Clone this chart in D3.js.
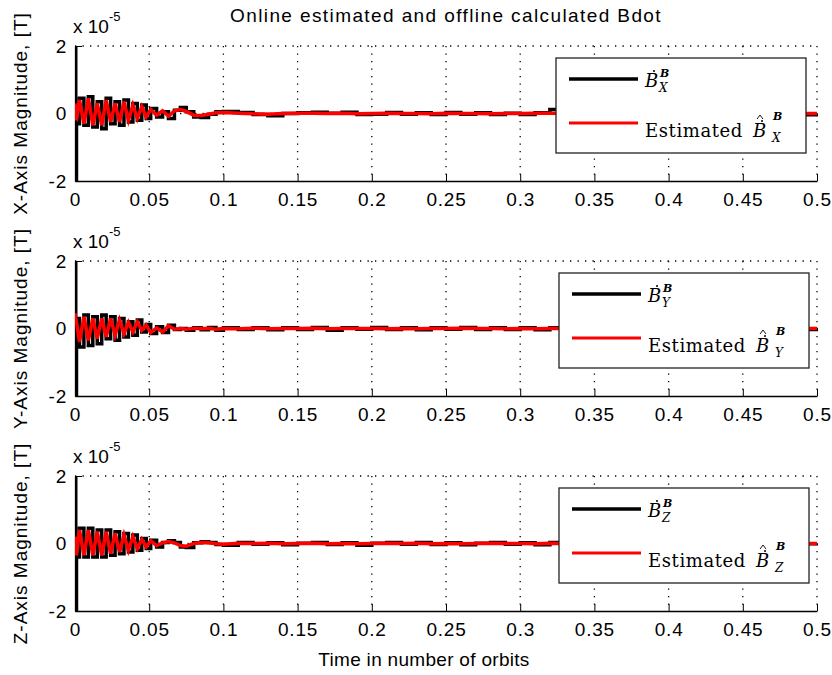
<!DOCTYPE html>
<html>
<head>
<meta charset="utf-8">
<script src="https://cdn.jsdelivr.net/npm/d3@7"></script>
<style>
  body { margin: 0; background: #fff; }
  svg { display: block; }
  .tick text { font-family: "Liberation Sans", Arial, sans-serif; font-size: 19px; letter-spacing: 0.8px; fill: #000; }
  .axis path, .axis line { stroke: #000; }
</style>
</head>
<body>
<script>
// data (values in units of 1e-5 T)
var time = [0, 0.0005, 0.001, 0.003, 0.006, 0.009, 0.012, 0.015, 0.018, 0.021, 0.024, 0.027, 0.030, 0.033, 0.036, 0.039, 0.042, 0.045, 0.048, 0.051,
	0.055, 0.059, 0.063, 0.067, 0.071, 0.075, 0.080, 0.085, 0.090, 0.095, 0.100,
	0.11, 0.12, 0.13, 0.14, 0.15, 0.16, 0.17, 0.18, 0.19, 0.20, 0.21, 0.22, 0.23, 0.24, 0.25, 0.26, 0.27, 0.28, 0.29, 0.30,
	0.31, 0.32, 0.33, 0.34, 0.35, 0.36, 0.37, 0.38, 0.39, 0.40, 0.41, 0.42, 0.43, 0.44, 0.45, 0.46, 0.47, 0.48, 0.49, 0.50];

var xMeasured = [3, -3, -0.3, 0.45, -0.35, 0.5, -0.4, 0.35, -0.45, 0.45, -0.3, 0.35, -0.35, 0.4, -0.25, 0.3, -0.2, 0.25, -0.15, 0.15,
	-0.1, 0.05, -0.15, 0.1, 0.18, 0.05, -0.1, -0.12, -0.02, 0.05, 0.06,
	0.03, -0.03, -0.07, 0.0, 0.02, 0.04, 0.01, 0.04, -0.03, -0.02, 0.03, -0.02, 0.02, -0.03, 0.03, -0.02, 0.02, -0.03, 0.01, -0.03,
	0.02, 0.12, -0.06, 0.02, -0.02, 0.01, -0.02, 0.03, -0.01, 0.02, -0.03, 0.01, 0.02, -0.01, 0.01, -0.02, 0.01, 0.08, -0.04, 0.01];
var xEstimated = [0.3, 0.0, -0.2, 0.4, -0.3, 0.45, -0.35, 0.3, -0.35, 0.4, -0.25, 0.3, -0.25, 0.35, -0.2, 0.25, -0.15, 0.2, -0.1, 0.12,
	-0.05, 0.08, -0.08, 0.08, 0.12, 0.06, -0.05, -0.06, -0.02, 0.02, 0.03,
	0.01, -0.01, -0.02, 0.0, 0.01, 0.01, 0.0, 0.01, -0.01, 0.0, 0.01, 0.0, 0.0, -0.01, 0.01, 0.0, 0.0, -0.01, 0.0, 0.0,
	0.01, 0.01, 0.0, 0.0, 0.0, 0.0, -0.01, 0.0, 0.0, 0.0, 0.0, 0.0, 0.0, 0.0, 0.0, 0.0, 0.0, 0.01, 0.0, 0.0];

var yMeasured = [3, -3, 0.3, -0.55, 0.4, -0.5, 0.35, -0.45, 0.4, -0.3, 0.35, -0.35, 0.3, -0.25, 0.2, -0.2, 0.25, -0.1, 0.12, -0.15,
	0.05, -0.12, 0.1, -0.03, 0.0, -0.05, 0.02, -0.04, 0.03, -0.05, 0.02,
	-0.03, 0.02, -0.04, 0.02, -0.03, 0.03, -0.05, 0.02, -0.02, 0.03, -0.03, 0.02, -0.04, 0.02, -0.02, 0.03, -0.03, 0.02, -0.03, 0.02,
	-0.04, 0.02, -0.03, 0.03, -0.02, 0.02, -0.03, 0.02, -0.03, 0.03, -0.02, 0.02, -0.03, 0.02, -0.03, 0.02, -0.02, 0.03, -0.03, 0.02];
var yEstimated = [0.45, 0.3, 0.2, -0.4, 0.35, -0.35, 0.3, -0.3, 0.3, -0.25, 0.3, -0.2, 0.25, -0.15, 0.18, -0.1, 0.2, -0.05, 0.1, -0.12,
	0.02, -0.1, 0.08, -0.02, 0.0, -0.02, 0.01, -0.01, 0.01, -0.02, 0.0,
	-0.01, 0.01, -0.01, 0.0, 0.0, 0.01, -0.01, 0.0, 0.0, 0.0, -0.01, 0.0, -0.01, 0.0, 0.0, 0.01, 0.0, 0.0, -0.01, 0.0,
	-0.01, 0.0, 0.0, 0.01, 0.0, 0.0, -0.01, 0.0, 0.0, 0.01, 0.0, 0.0, -0.01, 0.0, 0.0, 0.0, 0.0, 0.01, 0.0, 0.0];

var zMeasured = [3, -3, -0.4, 0.45, -0.4, 0.45, -0.4, 0.4, -0.4, 0.4, -0.35, 0.35, -0.3, 0.3, -0.25, 0.25, -0.2, 0.15, -0.15, 0.1,
	-0.1, 0.03, 0.08, 0.03, -0.1, -0.12, 0.02, 0.05, 0.03, -0.03, -0.05,
	0.03, -0.02, 0.02, -0.04, 0.01, 0.03, -0.03, 0.02, -0.05, 0.01, 0.03, -0.02, 0.03, -0.03, 0.02, -0.04, 0.01, 0.03, -0.02, 0.02,
	-0.04, 0.03, -0.01, 0.02, -0.03, 0.01, 0.03, -0.02, 0.02, -0.01, 0.03, -0.02, 0.01, -0.03, 0.02, 0.01, -0.02, 0.02, -0.01, 0.01];
var zEstimated = [0.2, 0.1, -0.35, 0.4, -0.35, 0.4, -0.35, 0.35, -0.35, 0.35, -0.3, 0.3, -0.25, 0.25, -0.2, 0.2, -0.15, 0.12, -0.1, 0.08,
	-0.06, 0.02, 0.06, 0.02, -0.06, -0.08, 0.0, 0.03, 0.02, -0.01, -0.02,
	0.01, 0.0, 0.01, -0.01, 0.0, 0.01, -0.01, 0.0, -0.01, 0.0, 0.01, 0.0, 0.01, -0.01, 0.0, -0.01, 0.0, 0.01, 0.0, 0.0,
	-0.01, 0.01, 0.0, 0.0, -0.01, 0.0, 0.01, 0.0, 0.0, 0.0, 0.01, 0.0, 0.0, -0.01, 0.0, 0.0, 0.0, 0.0, 0.0, 0.0];

var xTicks = [0, 0.05, 0.1, 0.15, 0.2, 0.25, 0.3, 0.35, 0.4, 0.45, 0.5];
var yTicks = [-2, 0, 2];
var axisNames = ['X', 'Y', 'Z'];
var yLabels = ['X-Axis Magnitude, [T]', 'Y-Axis Magnitude, [T]', 'Z-Axis Magnitude, [T]'];
var measuredSeries = [xMeasured, yMeasured, zMeasured];
var estimatedSeries = [xEstimated, yEstimated, zEstimated];

var titleText = 'Online estimated and offline calculated Bdot';
var xLabelText = 'Time in number of orbits';

// chart
var W = 832, H = 675;
var left = 75, right = 817;
var tops = [46, 261, 476];
var plotH = 135;
var sans = '"Liberation Sans", Arial, sans-serif';
var serif = '"DejaVu Serif", serif';

var svg = d3.select('body').append('svg')
	.attr('width', W)
	.attr('height', H);

var x = d3.scaleLinear().domain([0, 0.5]).range([left, right]);

svg.append('text')
	.attr('x', 446)
	.attr('y', 22)
	.attr('text-anchor', 'middle')
	.style('font-family', sans)
	.style('font-size', '19px')
	.style('letter-spacing', '1.4px')
	.text(titleText);

svg.append('text')
	.attr('x', 424)
	.attr('y', 666)
	.attr('text-anchor', 'middle')
	.style('font-family', sans)
	.style('font-size', '19px')
	.style('letter-spacing', '0.3px')
	.text(xLabelText);

axisNames.forEach(function (name, i) {
	var top = tops[i];
	var bottom = top + plotH;
	var y = d3.scaleLinear().domain([-2, 2]).range([bottom, top]);
	var g = svg.append('g');

	g.append('defs').append('clipPath')
		.attr('id', 'clip' + i)
		.append('rect')
		.attr('x', left)
		.attr('y', top)
		.attr('width', right - left + 1)
		.attr('height', plotH);

	// grid
	g.selectAll('.vgrid')
		.data(xTicks.slice(1)).enter()
		.append('line')
		.attr('x1', function (d) { return x(d); })
		.attr('x2', function (d) { return x(d); })
		.attr('y1', top)
		.attr('y2', bottom)
		.attr('stroke', '#000')
		.attr('stroke-width', 1.3)
		.attr('stroke-dasharray', '1.3,6.2');
	g.selectAll('.hgrid')
		.data(yTicks.slice(1)).enter()
		.append('line')
		.attr('x1', left)
		.attr('x2', right)
		.attr('y1', function (d) { return y(d); })
		.attr('y2', function (d) { return y(d); })
		.attr('stroke', '#000')
		.attr('stroke-width', 1.3)
		.attr('stroke-dasharray', '1.3,6.2');

	// axes
	var x_axis = d3.axisBottom(x)
		.tickValues(xTicks)
		.tickSizeInner(-7)
		.tickSizeOuter(0)
		.tickPadding(12)
		.tickFormat(function (d) { return String(d); });
	var y_axis = d3.axisLeft(y)
		.tickValues(yTicks)
		.tickSizeInner(-7)
		.tickSizeOuter(0)
		.tickPadding(8)
		.tickFormat(function (d) { return String(d); });

	g.append('g')
		.attr('class', 'axis')
		.attr('transform', 'translate(0,' + bottom + ')')
		.call(x_axis)
		.call(function (s) { s.select('.domain').attr('stroke-width', 1.3); });
	g.append('g')
		.attr('class', 'axis')
		.attr('transform', 'translate(' + left + ',0)')
		.call(y_axis)
		.call(function (s) { s.select('.domain').attr('stroke-width', 1.3); });

	// exponent
	var ex = g.append('text')
		.attr('x', 73)
		.attr('y', top - 13)
		.style('font-family', sans)
		.style('font-size', '19px');
	ex.append('tspan').text('x 10');
	ex.append('tspan').attr('dy', -12).style('font-size', '13px').text('-5');

	// ylabel
	g.append('text')
		.attr('transform', 'translate(27,' + (top + plotH / 2) + ') rotate(-90)')
		.attr('text-anchor', 'middle')
		.style('font-family', sans)
		.style('font-size', '19px')
		.style('letter-spacing', '1px')
		.text(yLabels[i]);

	// lines
	var meas = time.map(function (t, k) { return [t, measuredSeries[i][k]]; });
	var est = time.map(function (t, k) { return [t, estimatedSeries[i][k]]; });

	g.append('path')
		.datum(meas)
		.attr('clip-path', 'url(#clip' + i + ')')
		.attr('fill', 'none')
		.attr('stroke', '#000')
		.attr('stroke-width', 3.5)
		.attr('d', d3.line().curve(d3.curveStepAfter)
			.x(function (d) { return x(d[0]); })
			.y(function (d) { return y(d[1]); }));
	g.append('path')
		.datum(est)
		.attr('clip-path', 'url(#clip' + i + ')')
		.attr('fill', 'none')
		.attr('stroke', '#ff0000')
		.attr('stroke-width', 3.5)
		.attr('d', d3.line()
			.x(function (d) { return x(d[0]); })
			.y(function (d) { return y(d[1]); }));

	// legend
	var L = i === 0 ? 556 : 559;
	var T = top + 12;
	var leg = g.append('g');
	leg.append('rect')
		.attr('x', L).attr('y', T)
		.attr('width', 250).attr('height', 95)
		.attr('fill', '#fff')
		.attr('stroke', '#222')
		.attr('stroke-width', 1.3);
	leg.append('line')
		.attr('x1', L + 13).attr('x2', L + 82)
		.attr('y1', T + 21).attr('y2', T + 21)
		.attr('stroke', '#000').attr('stroke-width', 3.5);
	leg.append('line')
		.attr('x1', L + 13).attr('x2', L + 82)
		.attr('y1', T + 65).attr('y2', T + 65)
		.attr('stroke', '#ff0000').attr('stroke-width', 3);

	// B with dot (and hat), superscript B, subscript axis name
	function symbol(x0, yb, hat) {
		var t = leg.append('text')
			.attr('x', x0).attr('y', yb)
			.style('font-family', serif);
		t.append('tspan')
			.style('font-size', '18px').style('font-style', 'italic')
			.text('B');
		var sx = x0 + (hat ? 20 : 15);
		t.append('tspan')
			.attr('x', sx).attr('dy', hat ? -17 : -10)
			.style('font-size', '11px').style('font-style', 'italic').style('font-weight', 'bold')
			.text('B');
		t.append('tspan')
			.attr('x', sx - 1).attr('dy', hat ? 22 : 15)
			.style('font-size', '12px').style('font-style', 'italic')
			.text(name);
		leg.append('circle')
			.attr('cx', x0 + 9).attr('cy', yb - 16)
			.attr('r', 1)
			.attr('fill', '#000');
		if (hat) {
			leg.append('path')
				.attr('d', 'M' + (x0 + 4) + ',' + (yb - 18) + 'L' + (x0 + 7) + ',' + (yb - 22) + 'L' + (x0 + 10) + ',' + (yb - 18))
				.attr('fill', 'none')
				.attr('stroke', '#000')
				.attr('stroke-width', 0.9);
		}
	}

	symbol(L + 89, T + 29, false);
	leg.append('text')
		.attr('x', L + 89).attr('y', T + 79)
		.style('font-family', serif).style('font-size', '18px')
		.style('letter-spacing', '0.6px')
		.text('Estimated');
	symbol(L + 197, T + 79, true);
});
</script>
</body>
</html>
